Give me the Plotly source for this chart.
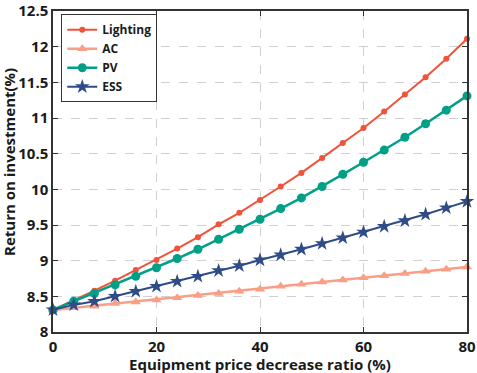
import plotly.graph_objects as go

ratio = [0, 4, 8, 12, 16, 20, 24, 28, 32, 36, 40, 44, 48, 52, 56, 60, 64, 68, 72, 76, 80]
lighting = [8.31, 8.44, 8.58, 8.72, 8.87, 9.01, 9.17, 9.33, 9.51, 9.67, 9.85, 10.04, 10.23, 10.44, 10.65, 10.86, 11.09, 11.33, 11.57, 11.83, 12.11]
ac = [8.31, 8.34, 8.36, 8.40, 8.42, 8.45, 8.48, 8.51, 8.54, 8.57, 8.60, 8.64, 8.67, 8.70, 8.73, 8.76, 8.79, 8.82, 8.85, 8.88, 8.91]
pv = [8.31, 8.43, 8.54, 8.66, 8.78, 8.90, 9.03, 9.16, 9.30, 9.44, 9.58, 9.73, 9.88, 10.04, 10.21, 10.38, 10.55, 10.73, 10.92, 11.11, 11.31]
ess = [8.31, 8.38, 8.43, 8.50, 8.57, 8.64, 8.71, 8.78, 8.86, 8.93, 9.01, 9.08, 9.16, 9.24, 9.32, 9.40, 9.48, 9.56, 9.65, 9.74, 9.83]

xticks = [0, 20, 40, 60, 80]
yticks = [8, 8.5, 9, 9.5, 10, 10.5, 11, 11.5, 12, 12.5]
ytext = ["8", "8.5", "9", "9.5", "10", "10.5", "11", "11.5", "12", "12.5"]
x_title = "Equipment price decrease ratio (%)"
y_title = "Return on investment(%)"

series = [
    ("Lighting", lighting, "#F0523A", "circle", 6, 2),
    ("AC", ac, "#FA9E85", "triangle-up", 9, 2.5),
    ("PV", pv, "#00A087", "circle", 9, 2.5),
    ("ESS", ess, "#2F4C88", "star", 11, 2),
]

fig = go.Figure()
for name, ys, col, sym, sz, lw in series:
    fig.add_trace(go.Scatter(
        x=ratio, y=ys, name=name, mode="lines+markers",
        line=dict(color=col, width=lw),
        marker=dict(symbol=sym, size=sz, color=col, line=dict(width=0)),
        cliponaxis=False,
    ))

font_family = "Open Sans, DejaVu Sans, sans-serif"
title_font = dict(family=font_family, size=15, color="#1a1a1a", weight="bold")
axis_common = dict(
    showline=True, linecolor="#333333", linewidth=1.5, mirror="ticks",
    ticks="inside", ticklen=5, tickcolor="#333333", tickwidth=1,
    showgrid=True, gridcolor="#D0D0D0", griddash="dash", gridwidth=1,
    zeroline=False, automargin=False, ticklabeloverflow="allow",
    tickfont=dict(family=font_family, size=15, color="#1a1a1a", weight="bold"),
)

fig.update_layout(
    width=477, height=373,
    margin=dict(l=53, r=10, t=11, b=41),
    paper_bgcolor="white", plot_bgcolor="white",
    showlegend=True,
    legend=dict(
        x=0.02, y=0.99, xanchor="left", yanchor="top",
        bgcolor="white", bordercolor="#333333", borderwidth=1,
        font=dict(family=font_family, size=12, color="#1a1a1a", weight="bold"),
        tracegroupgap=0, itemwidth=30,
    ),
    xaxis=dict(range=[0, 80], tickvals=xticks, **axis_common),
    yaxis=dict(range=[8, 12.5], tickvals=yticks, ticktext=ytext, **axis_common),
    annotations=[
        dict(text=x_title, xref="paper", yref="paper", x=0.5, y=-0.1,
             xanchor="center", yanchor="middle", showarrow=False, font=title_font),
        dict(text=y_title, xref="paper", yref="paper", x=-0.106, y=0.53,
             xanchor="center", yanchor="middle", textangle=-90, showarrow=False,
             font=title_font),
    ],
)

fig.write_html("out.html", post_script="document.body.style.margin='0';",
               config={"displayModeBar": False})
